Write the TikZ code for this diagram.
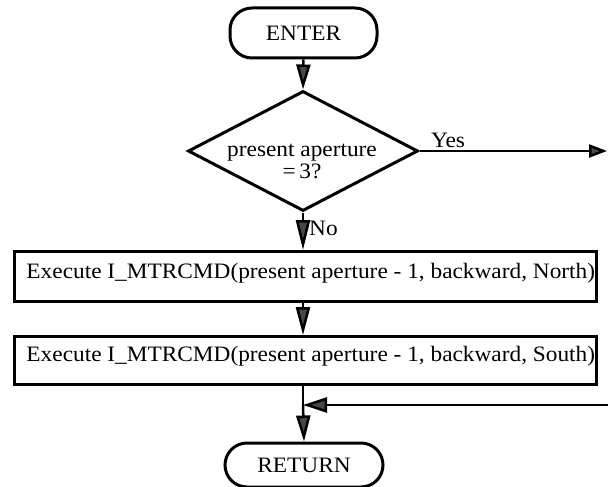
\documentclass[tikz,border=0pt]{standalone}
\usepackage{fontspec}
\setmainfont[FakeStretch=1.06]{Liberation Serif}
\usetikzlibrary{arrows.meta,shapes.geometric}

\tikzset{
  txt/.style={font=\fontsize{22pt}{25pt}\selectfont},
  terminal/.style={draw, line width=3pt, rounded corners=22pt, inner sep=0pt, txt},
  decision/.style={draw, line width=3pt, diamond, inner sep=0pt},
  process/.style={draw, line width=3pt, inner xsep=12pt, inner ysep=0pt, txt},
  flow/.style={line width=2.5pt, -{Triangle[length=#1, width=14pt, fill=black!72]}},
  flow/.default=26pt,
}

\begin{document}
\begin{tikzpicture}[x=1pt, y=-1pt]
  \useasboundingbox (0,0) rectangle (608,487);

  % start / end terminals
  \node[terminal, minimum width=147pt, minimum height=50pt] (enter) at (303.5,33) {ENTER};
  \node[terminal, minimum width=158pt, minimum height=44pt] (ret) at (304,465) {RETURN};

  % decision
  \node[decision, minimum width=230pt, minimum height=120pt] (dec) at (303,151) {};
  \node[txt, align=center, inner sep=0pt] (dtext) at (302,161) {present aperture\\[-3pt]=\,3?};

  % motor command boxes
  \node[process, anchor=north west, text height=27pt, text depth=23pt] (north) at (13,250)
    {\makebox[558pt][l]{Execute I\_MTRCMD(present aperture - 1, backward, North)}};
  \node[process, anchor=north west, text height=25pt, text depth=23pt] (south) at (13,335)
    {\makebox[558pt][l]{Execute I\_MTRCMD(present aperture - 1, backward, South)}};

  % free ends and junction
  \coordinate (yesend) at (607,151);
  \coordinate (loopin) at (608,405);
  \coordinate (join) at (303,405);

  % connectors
  \draw[flow=25pt] (enter.south) -- (dec.north);
  \draw[flow=30pt] (dec.south) -- (dec.south |- north.north);
  \draw[flow=28pt] (north.south -| dec.south) -- (dec.south |- south.north);
  \draw[line width=2.5pt, -{Triangle[length=18pt, width=13pt, fill=black!72]}] (dec.east) -- (yesend);
  \draw[line width=2.5pt] (dec.south |- south.south) -- (join);
  \draw[line width=2.5pt, -{Triangle[length=24pt, width=15pt, fill=black!72]}] (loopin) -- (join);
  \draw[flow=26pt] (join) -- (ret.north);

  % branch labels
  \node[txt, anchor=west, inner sep=0pt] (no) at (309,228) {No};
  \node[txt, inner sep=0pt] (yes) at (448,140) {Yes};
\end{tikzpicture}
\end{document}
